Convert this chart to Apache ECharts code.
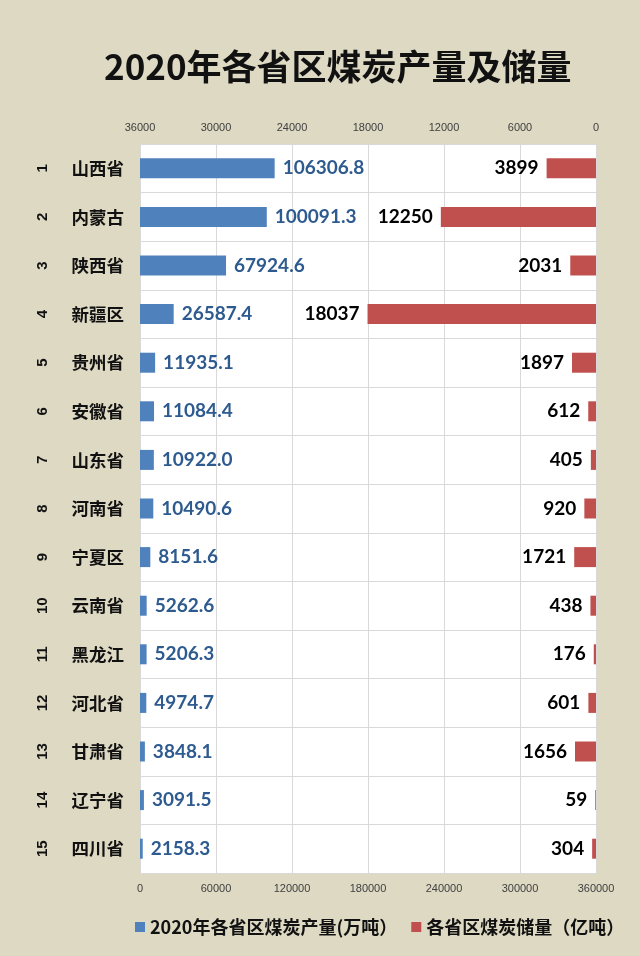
<!DOCTYPE html>
<html><head><meta charset="utf-8">
<script src="https://cdn.jsdelivr.net/npm/echarts@6/dist/echarts.min.js"></script>
<style>html,body{margin:0;padding:0;background:#ddd9c3;}#c{width:640px;height:956px;}</style>
</head><body><div id="c"></div>
<script>
const ranks = ['1','2','3','4','5','6','7','8','9','10','11','12','13','14','15'];
const provinces = ['山西省','内蒙古','陕西省','新疆区','贵州省','安徽省','山东省','河南省','宁夏区','云南省','黑龙江','河北省','甘肃省','辽宁省','四川省'];
const production = [106306.8,100091.3,67924.6,26587.4,11935.1,11084.4,10922.0,10490.6,8151.6,5262.6,5206.3,4974.7,3848.1,3091.5,2158.3];
const reserves = [3899,12250,2031,18037,1897,612,405,920,1721,438,176,601,1656,59,304];
const prodName = '2020年各省区煤炭产量(万吨）';
const resName = '各省区煤炭储量（亿吨）';

const chart = echarts.init(document.getElementById('c'), null, {renderer:'canvas'});
const tickStyle = {color:'#404040', fontSize:11, fontFamily:'Liberation Sans, Arial, sans-serif', formatter:v=>String(v)};
chart.setOption({
  backgroundColor:'#ddd9c3',
  animation:false,
  title:{
    text:'2020年各省区煤炭产量及储量',
    left:99, top:44,
    textStyle:{fontSize:35, fontWeight:'bold', color:'#111', fontFamily:'Noto Sans CJK SC'}
  },
  legend:{
    left:130, top:913, itemWidth:10, itemHeight:10, itemGap:14, icon:'rect',
    textStyle:{fontSize:18, fontWeight:'bold', color:'#111', fontFamily:'Noto Sans CJK SC'},
    data:[prodName,resName]
  },
  grid:{left:140, right:44, top:144, bottom:83, show:true, backgroundColor:'#ffffff', borderWidth:0},
  xAxis:[
    {type:'value', position:'bottom', min:0, max:360000, interval:60000,
     axisLine:{show:false}, axisTick:{show:false},
     splitLine:{show:true, lineStyle:{color:'#d9d9d9', width:1}},
     axisLabel:Object.assign({margin:10}, tickStyle)},
    {type:'value', position:'top', min:0, max:36000, interval:6000, inverse:true,
     axisLine:{show:false}, axisTick:{show:false}, splitLine:{show:false},
     axisLabel:Object.assign({margin:11}, tickStyle)}
  ],
  yAxis:[
    {type:'category', data:provinces, inverse:true,
     axisLine:{show:false}, axisTick:{show:false},
     splitLine:{show:true, lineStyle:{color:'#d9d9d9', width:1}},
     axisLabel:{margin:16, fontSize:17.5, fontWeight:'bold', color:'#111', fontFamily:'Noto Sans CJK SC'}},
    {type:'category', data:ranks, inverse:true, position:'left', offset:90,
     axisLine:{show:false}, axisTick:{show:false}, splitLine:{show:false},
     axisLabel:{margin:0, rotate:90, fontSize:15, fontWeight:'bold', color:'#111', fontFamily:'Liberation Sans, Arial, sans-serif'}}
  ],
  series:[
    {name:prodName, type:'bar', xAxisIndex:0, yAxisIndex:0, data:production, barWidth:20, barGap:'-100%',
     itemStyle:{color:'#4f81bd'},
     label:{show:true, position:'right', distance:8, formatter:p=>p.value.toFixed(1),
            color:'#2e5b8f', fontSize:19, fontWeight:'bold', fontFamily:'Lato, sans-serif'}},
    {name:resName, type:'bar', xAxisIndex:1, yAxisIndex:0, data:reserves, barWidth:20, barGap:'-100%',
     itemStyle:{color:'#c0504d'},
     label:{show:true, position:'left', distance:8,
            color:'#000', fontSize:19, fontWeight:'bold', fontFamily:'Lato, sans-serif'}}
  ]
});
</script></body></html>
